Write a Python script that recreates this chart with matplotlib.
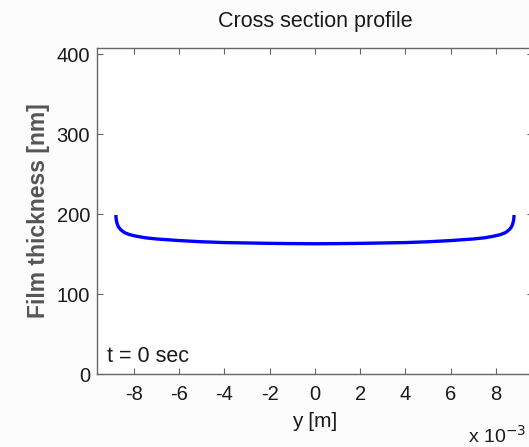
import matplotlib
matplotlib.use("Agg")
import matplotlib.pyplot as plt

plt.rcParams['font.family'] = ['Liberation Sans', 'DejaVu Sans']

# cross section position [m] and film thickness [nm]
y_pos = [-8.80e-3, -8.78e-3, -8.74e-3, -8.68e-3, -8.58e-3, -8.42e-3, -8.20e-3,
         -7.90e-3, -7.50e-3, -7.00e-3, -6.00e-3, -5.00e-3, -4.00e-3, -3.00e-3,
         -2.00e-3, -1.00e-3, 0.0,
         1.00e-3, 2.00e-3, 3.00e-3, 4.00e-3, 5.00e-3, 6.00e-3, 7.00e-3,
         7.50e-3, 7.90e-3, 8.20e-3, 8.42e-3, 8.58e-3, 8.68e-3, 8.74e-3,
         8.78e-3, 8.80e-3]
thickness = [199, 193, 188, 184, 180.5, 177, 174.5,
             172.5, 170.5, 169, 167, 165.5, 164.5, 164,
             163.5, 163.2, 163,
             163.2, 163.5, 164, 164.5, 165.5, 167, 169,
             170.5, 172.5, 174.5, 177, 180.5, 184, 188,
             193, 199]
x_ticks = [-8e-3, -6e-3, -4e-3, -2e-3, 0, 2e-3, 4e-3, 6e-3, 8e-3]
y_ticks = [0, 100, 200, 300, 400]

fig = plt.figure(figsize=(5.29, 4.47), dpi=100, facecolor="#fcfcfc")
ax = fig.add_axes([0.1834, 0.1633, 0.824, 0.7293])
ax.set_facecolor("white")

ax.plot(y_pos, thickness, color="#0000ff", lw=2.4, solid_capstyle="butt")

ax.set_xlim(-9.63e-3, 9.63e-3)
ax.set_ylim(0, 408)
ax.set_xticks(x_ticks)
ax.set_xticklabels([f"{v*1e3:.0f}" for v in x_ticks])
ax.set_yticks(y_ticks)

ax.tick_params(direction="in", length=4, width=0.8, top=True, right=True,
               labelsize=14.5, colors="#666666", labelcolor="#1a1a1a")
ax.tick_params(axis="y", pad=5)
ax.tick_params(axis="x", pad=8)
for s in ax.spines.values():
    s.set_color("#666666")
    s.set_linewidth(1.0)

ax.set_title("Cross section profile", fontsize=15.5, color="#1a1a1a", pad=15)
ax.set_xlabel("y [m]", fontsize=15, color="#1a1a1a", labelpad=6)
ax.set_ylabel("Film thickness [nm]", fontsize=16.5, fontweight="bold",
              color="#555555", labelpad=5)

ax.text(0.023, 0.037, "t = 0 sec", transform=ax.transAxes, fontsize=15.5,
        color="#1a1a1a", ha="left", va="baseline")
fig.text(468 / 529, 1 - 436 / 447, "x 10$^{-3}$", fontsize=14,
         color="#1a1a1a", ha="left", va="center")

fig.savefig("out.png", dpi=100, facecolor=fig.get_facecolor())
